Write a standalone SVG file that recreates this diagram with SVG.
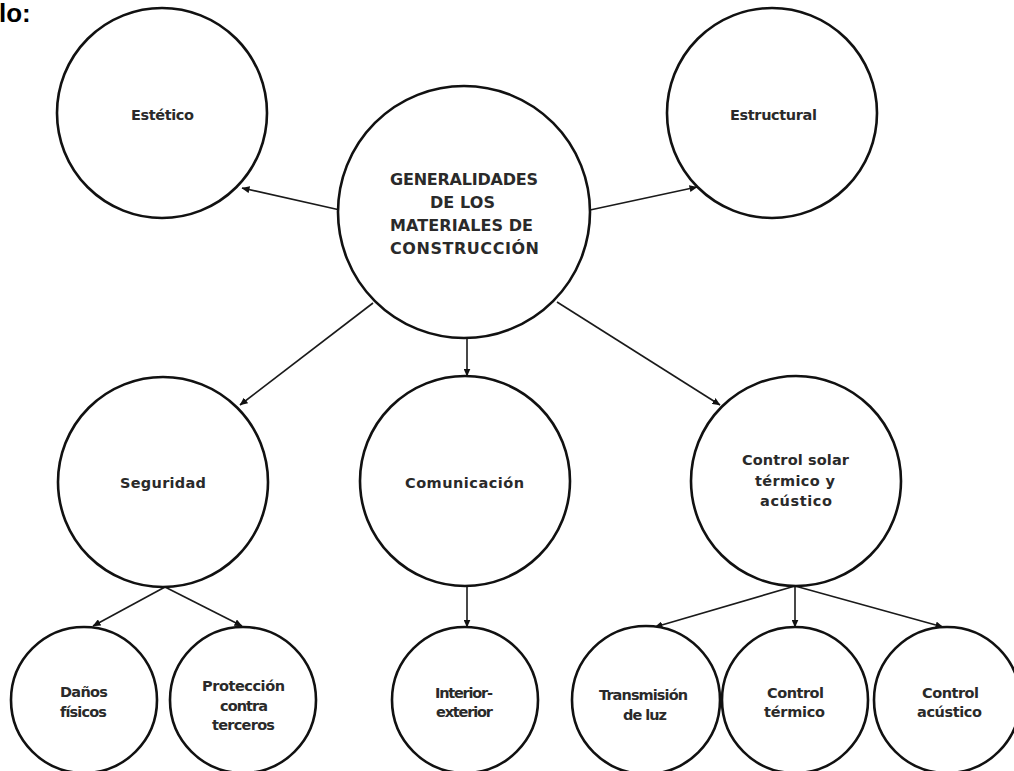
<svg xmlns="http://www.w3.org/2000/svg" width="1014" height="771" viewBox="0 0 1014 771">
  <style>
    .node { fill: #ffffff; stroke: #111111; stroke-width: 2.6; }
    .lbl { font-family: "DejaVu Sans", "Liberation Sans", sans-serif; font-weight: bold; font-size: 14.5px; fill: #2a2a2a; }
    .main { font-size: 16px; }
    .edge { stroke: #1a1a1a; stroke-width: 1.6; fill: none; marker-end: url(#arrow); }
    .title { font-family: "Liberation Sans", Arial, sans-serif; font-weight: bold; font-size: 26px; fill: #000000; }
  </style>
  <defs>
    <marker id="arrow" markerUnits="userSpaceOnUse" markerWidth="8" markerHeight="7" refX="7.5" refY="3.5" orient="auto">
      <path d="M0,0 L8,3.5 L0,7 z" fill="#111111"/>
    </marker>
  </defs>

  <rect x="0" y="0" width="1014" height="771" fill="#ffffff"/>

  <text class="title" x="-1" y="22">lo:</text>

  <!-- connectors -->
  <g id="connectors">
    <line class="edge" x1="340" y1="210" x2="242" y2="188"/>
    <line class="edge" x1="590" y1="210" x2="697" y2="187"/>
    <line class="edge" x1="373" y1="303" x2="240" y2="405"/>
    <line class="edge" x1="467" y1="338" x2="467" y2="376"/>
    <line class="edge" x1="557" y1="302" x2="720" y2="405"/>
    <line class="edge" x1="165" y1="587" x2="93" y2="626"/>
    <line class="edge" x1="165" y1="587" x2="242" y2="626"/>
    <line class="edge" x1="467" y1="586" x2="467" y2="627"/>
    <line class="edge" x1="795" y1="586" x2="655" y2="627"/>
    <line class="edge" x1="795" y1="586" x2="795" y2="627"/>
    <line class="edge" x1="795" y1="586" x2="943" y2="627"/>
  </g>

  <!-- central topic -->
  <g id="node-generalidades">
    <circle class="node" cx="464" cy="212" r="126"/>
    <text class="lbl main" x="390" y="185" textLength="148">GENERALIDADES</text>
    <text class="lbl main" x="430" y="208" textLength="65">DE LOS</text>
    <text class="lbl main" x="390" y="231" textLength="143">MATERIALES DE</text>
    <text class="lbl main" x="390" y="254" textLength="149">CONSTRUCCIÓN</text>
  </g>

  <g id="node-estetico">
    <circle class="node" cx="162" cy="113" r="105"/>
    <text class="lbl" x="131" y="120" textLength="63">Estético</text>
  </g>

  <g id="node-estructural">
    <circle class="node" cx="772" cy="113" r="105"/>
    <text class="lbl" x="730" y="120" textLength="87">Estructural</text>
  </g>

  <g id="node-seguridad">
    <circle class="node" cx="163" cy="482" r="105"/>
    <text class="lbl" x="120" y="488" textLength="86">Seguridad</text>
  </g>

  <g id="node-comunicacion">
    <circle class="node" cx="465" cy="481" r="105"/>
    <text class="lbl" x="405" y="488" textLength="119">Comunicación</text>
  </g>

  <g id="node-control-solar">
    <circle class="node" cx="796" cy="481" r="105"/>
    <text class="lbl" x="742" y="465" textLength="107">Control solar</text>
    <text class="lbl" x="755" y="486" textLength="80">térmico y</text>
    <text class="lbl" x="760" y="506" textLength="72">acústico</text>
  </g>

  <g id="node-danos">
    <circle class="node" cx="84" cy="700" r="73"/>
    <text class="lbl" x="60" y="697" textLength="48">Daños</text>
    <text class="lbl" x="60" y="717" textLength="47">físicos</text>
  </g>

  <g id="node-proteccion">
    <circle class="node" cx="243" cy="700" r="73"/>
    <text class="lbl" x="202" y="691" textLength="83">Protección</text>
    <text class="lbl" x="220" y="711" textLength="48">contra</text>
    <text class="lbl" x="212" y="730" textLength="63">terceros</text>
  </g>

  <g id="node-interior">
    <circle class="node" cx="465" cy="700" r="73"/>
    <text class="lbl" x="435" y="698" textLength="58">Interior-</text>
    <text class="lbl" x="436" y="717" textLength="57">exterior</text>
  </g>

  <g id="node-transmision">
    <circle class="node" cx="646" cy="700" r="74"/>
    <text class="lbl" x="599" y="700" textLength="89">Transmisión</text>
    <text class="lbl" x="623" y="720" textLength="44">de luz</text>
  </g>

  <g id="node-control-termico">
    <circle class="node" cx="795" cy="700" r="73"/>
    <text class="lbl" x="767" y="698" textLength="57">Control</text>
    <text class="lbl" x="764" y="717" textLength="61">térmico</text>
  </g>

  <g id="node-control-acustico">
    <circle class="node" cx="947" cy="700" r="73"/>
    <text class="lbl" x="922" y="698" textLength="57">Control</text>
    <text class="lbl" x="917" y="717" textLength="65">acústico</text>
  </g>
</svg>
